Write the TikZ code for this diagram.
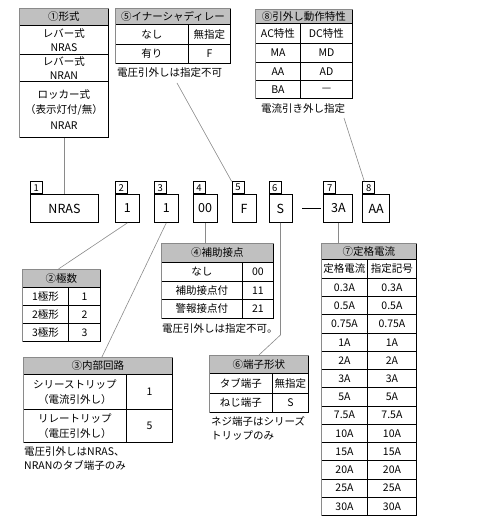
\documentclass[tikz,border=0pt]{standalone}
\usepackage{fontspec}
\setmainfont{Noto Sans CJK JP}
\usetikzlibrary{positioning,calc}

\definecolor{hdrgray}{HTML}{C0C0C0}
\definecolor{edgegray}{HTML}{8A8A8A}

\begin{document}
\begin{tikzpicture}[x=1pt, y=-1pt,
  cell/.style={draw, line width=0.9pt, inner sep=0pt, anchor=north west, align=center,
               font=\fontsize{10.5}{14.5}\selectfont},
  hdr/.style={cell, fill=hdrgray},
  gedge/.style={draw=edgegray, line width=0.9pt},
  part/.style={draw, line width=0.9pt, inner sep=0pt, minimum height=28pt, font=\fontsize{12.5}{14}\selectfont},
  tag/.style={draw, line width=0.7pt, inner sep=0pt, minimum width=12pt, minimum height=12pt,
              anchor=south west, font=\fontsize{9.5}{10}\selectfont},
  note/.style={inner sep=0pt, anchor=north west, align=left, font=\fontsize{10.5}{14}\selectfont},
  conn/.style={draw=edgegray, line width=0.6pt}
]
\useasboundingbox (0,0) rectangle (490,526);

% part number boxes
\node[part, minimum width=68pt, anchor=north west] (b1) at (30,194) {NRAS};
\node[part, minimum width=24pt, right=16pt of b1] (b2) {1};
\node[part, minimum width=24pt, right=14pt of b2] (b3) {1};
\node[part, minimum width=24pt, right=14pt of b3] (b4) {00};
\node[part, minimum width=24pt, right=14pt of b4] (b5) {F};
\node[part, minimum width=23pt, right=12pt of b5] (b6) {S};
\node[part, minimum width=29pt, right=31pt of b6] (b7) {3A};
\node[part, minimum width=27pt, right=9pt of b7] (b8) {AA};
\node[tag] (l1) at (b1.north west) {1};
\node[tag] (l2) at (b2.north west) {2};
\node[tag] (l3) at (b3.north west) {3};
\node[tag] (l4) at (b4.north west) {4};
\node[tag] (l5) at (b5.north west) {5};
\node[tag] (l6) at (b6.north west) {6};
\node[tag] (l7) at (b7.north west) {7};
\node[tag] (l8) at (b8.north west) {8};
\draw[line width=0.8pt, shorten <=10pt, shorten >=2pt] (b6.east) -- (b7.west);

% (1) type
\node[hdr, minimum width=89pt, minimum height=17pt] (h1) at (19,8) {①形式};
\node[cell, minimum width=89pt, minimum height=29pt] (f1a) at (19,25) {レバー式\\NRAS};
\node[cell, minimum width=89pt, minimum height=27pt] (f1b) at (19,54) {レバー式\\NRAN};
\node[cell, minimum width=89pt, minimum height=56pt, font=\fontsize{10.5}{15.5}\selectfont] (f1c) at (19,81) {ロッカー式\\（表示灯付/無）\\NRAR};
\draw[gedge] (f1c.south west) |- (h1.north east);

% (5) inertia delay
\node[hdr, minimum width=115pt, minimum height=16pt] (h5) at (115,8) {⑤イナーシャディレー};
\node[cell, minimum width=73pt, minimum height=20pt] (f5a) at (115,24) {なし};
\node[cell, minimum width=42pt, minimum height=20pt] (f5b) at (188,24) {無指定};
\node[cell, minimum width=73pt, minimum height=19pt] (f5c) at (115,44) {有り};
\node[cell, minimum width=42pt, minimum height=19pt] (f5d) at (188,44) {F};
\draw[gedge] (f5c.south west) |- (h5.north east);
\node[note] (c5) at (117,67) {電圧引外しは指定不可};

% (8) trip characteristic
\node[hdr, minimum width=97pt, minimum height=14pt] (h8) at (255,9) {⑧引外し動作特性};
\node[cell, minimum width=45pt, minimum height=20pt] (f8a) at (255,23) {AC特性};
\node[cell, minimum width=52pt, minimum height=20pt] (f8b) at (300,23) {DC特性};
\node[cell, minimum width=45pt, minimum height=19pt] (f8c) at (255,43) {MA};
\node[cell, minimum width=52pt, minimum height=19pt] (f8d) at (300,43) {MD};
\node[cell, minimum width=45pt, minimum height=18pt] (f8e) at (255,62) {AA};
\node[cell, minimum width=52pt, minimum height=18pt] (f8f) at (300,62) {AD};
\node[cell, minimum width=45pt, minimum height=18pt] (f8g) at (255,80) {BA};
\node[cell, minimum width=52pt, minimum height=18pt] (f8h) at (300,80) {\raisebox{-3pt}{—}};
\draw[gedge] (f8g.south west) |- (h8.north east);
\node[note, anchor=center] (c8) at (303,109) {電流引き外し指定};

% (2) poles
\node[hdr, minimum width=78pt, minimum height=18pt] (h2) at (22,269) {②極数};
\node[cell, minimum width=46pt, minimum height=18pt] (f2a) at (22,287) {1極形};
\node[cell, minimum width=32pt, minimum height=18pt] (f2b) at (68,287) {1};
\node[cell, minimum width=46pt, minimum height=18pt] (f2c) at (22,305) {2極形};
\node[cell, minimum width=32pt, minimum height=18pt] (f2d) at (68,305) {2};
\node[cell, minimum width=46pt, minimum height=18pt] (f2e) at (22,323) {3極形};
\node[cell, minimum width=32pt, minimum height=18pt] (f2f) at (68,323) {3};
\draw[gedge] (f2e.south west) |- (h2.north east);

% (3) internal circuit
\node[hdr, minimum width=149pt, minimum height=17pt] (h3) at (23,357) {③内部回路};
\node[cell, minimum width=103pt, minimum height=35pt] (f3a) at (23,374) {シリーストリップ\\（電流引外し）};
\node[cell, minimum width=46pt, minimum height=35pt] (f3b) at (126,374) {1};
\node[cell, minimum width=103pt, minimum height=33pt] (f3c) at (23,409) {リレートリップ\\（電圧引外し）};
\node[cell, minimum width=46pt, minimum height=33pt] (f3d) at (126,409) {5};
\draw[gedge] (f3c.south west) |- (h3.north east);
\node[note] (c3) at (24,446) {電圧引外しはNRAS、\\NRANのタブ端子のみ};

% (4) auxiliary contact
\node[hdr, minimum width=112pt, minimum height=19pt] (h4) at (161,243) {④補助接点};
\node[cell, minimum width=81pt, minimum height=19pt] (f4a) at (161,262) {なし};
\node[cell, minimum width=31pt, minimum height=19pt] (f4b) at (242,262) {00};
\node[cell, minimum width=81pt, minimum height=18pt] (f4c) at (161,281) {補助接点付};
\node[cell, minimum width=31pt, minimum height=18pt] (f4d) at (242,281) {11};
\node[cell, minimum width=81pt, minimum height=19pt] (f4e) at (161,299) {警報接点付};
\node[cell, minimum width=31pt, minimum height=19pt] (f4f) at (242,299) {21};
\draw[gedge] (f4e.south west) |- (h4.north east);
\node[note] (c4) at (162,323) {電圧引外しは指定不可。};

% (6) terminal
\node[hdr, minimum width=99pt, minimum height=18pt] (h6) at (209,355) {⑥端子形状};
\node[cell, minimum width=63pt, minimum height=20pt] (f6a) at (209,373) {タブ端子};
\node[cell, minimum width=36pt, minimum height=20pt] (f6b) at (272,373) {無指定};
\node[cell, minimum width=63pt, minimum height=19pt] (f6c) at (209,393) {ねじ端子};
\node[cell, minimum width=36pt, minimum height=19pt] (f6d) at (272,393) {S};
\draw[gedge] (f6c.south west) |- (h6.north east);
\node[note] (c6) at (211,416) {ネジ端子はシリーズ\\トリップのみ};

% (7) rated current
\node[hdr, minimum width=95pt, minimum height=16pt] (h7) at (321,243) {⑦定格電流};
\node[cell, minimum width=46pt, minimum height=19pt] (f7a) at (321,259) {定格電流};
\node[cell, minimum width=49pt, minimum height=19pt] (f7b) at (367,259) {指定記号};
\foreach \amp [count=\i from 0] in {0.3A,0.5A,0.75A,1A,2A,3A,5A,7.5A,10A,15A,20A,25A,30A} {
  \node[cell, minimum width=46pt, minimum height=18.23pt] (r\i a) at (321,{278+18.23*\i}) {\amp};
  \node[cell, minimum width=49pt, minimum height=18.23pt] (r\i b) at (367,{278+18.23*\i}) {\amp};
}
\draw[gedge] (r12a.south west) |- (h7.north east);

% connectors
\coordinate (k5) at (177,83);
\coordinate (k8) at (344,118);
\coordinate (k6) at (b6.south |- 0,335);
\draw[conn] (f1c.south) -- (f1c.south |- b1.north);
\draw[conn] (k5) -- (l5.north west);
\draw[conn] (k8) -- ($(l8.north west)+(2,0)$);
\draw[conn] (b2.south) -- ($(h2.north)+(-3,0)$);
\draw[conn] (b3.south) -- ($(h3.north)+(4,0)$);
\draw[conn] (b4.south) -- (b4.south |- h4.north);
\draw[conn] (b6.south) -- (k6) -- (h6.north);
\draw[conn] (b7.south) -- (b7.south |- h7.north);
\end{tikzpicture}
\end{document}
